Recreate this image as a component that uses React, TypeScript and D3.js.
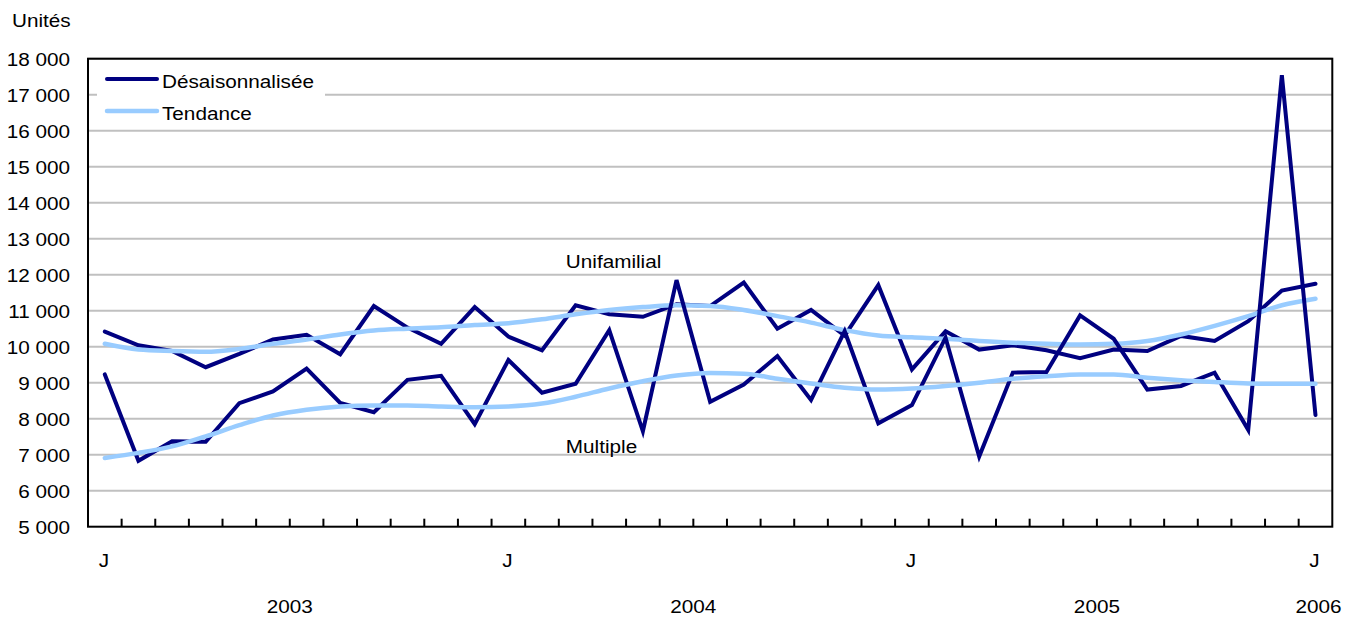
import { useEffect, useRef } from 'react'
import * as d3 from 'd3'

// months Jan 2003 .. Jan 2006
const years = ['2003', '2004', '2005', '2006']
const monthCodes = ['J', 'F', 'M', 'A', 'M', 'J', 'J', 'A', 'S', 'O', 'N', 'D']
const categories: string[] = [
  ...years.slice(0, 3).flatMap((y) => monthCodes.map((_m, i) => `${y}-${String(i + 1).padStart(2, '0')}`)),
  '2006-01',
]

const uniDes = [10420, 10040, 9880, 9430, 9800, 10200, 10330, 9790, 11130, 10530, 10080, 11100, 10280, 9900, 11150, 10900, 10830, 11180, 11130, 11780, 10500, 11020, 10310, 11710, 9370, 10430, 9920, 10040, 9900, 9680, 9920, 9880, 10300, 10160, 10710, 11560, 11750]
const uniTrend = [10080, 9920, 9880, 9860, 9940, 10080, 10200, 10340, 10450, 10500, 10540, 10600, 10650, 10760, 10900, 11020, 11100, 11150, 11130, 11020, 10850, 10670, 10460, 10310, 10260, 10220, 10160, 10110, 10080, 10060, 10080, 10160, 10340, 10580, 10850, 11150, 11330]
const multDes = [9230, 6830, 7370, 7360, 8430, 8760, 9390, 8440, 8180, 9080, 9190, 7850, 9630, 8720, 8970, 10460, 7650, 11850, 8470, 8950, 9740, 8520, 10430, 7870, 8380, 10250, 6950, 9280, 9300, 10870, 10220, 8810, 8910, 9280, 7690, 17540, 8100]
const multTrend = [6910, 7050, 7230, 7510, 7820, 8090, 8250, 8340, 8370, 8370, 8340, 8320, 8340, 8420, 8610, 8840, 9040, 9200, 9270, 9250, 9110, 8980, 8860, 8810, 8840, 8910, 9000, 9110, 9180, 9230, 9230, 9140, 9070, 9020, 8980, 8970, 8970]

const yTicks = [5000, 6000, 7000, 8000, 9000, 10000, 11000, 12000, 13000, 14000, 15000, 16000, 17000, 18000]
const legendItems = [
  { name: 'Désaisonnalisée', color: '#000080' },
  { name: 'Tendance', color: '#99ccff' },
]
const seriesLabels = [
  { text: 'Unifamilial', cat: '2004-03', value: 12190 },
  { text: 'Multiple', cat: '2004-03', value: 7050 },
]

const W = 1356
const H = 620
const DARK = '#000080'
const LIGHT = '#99ccff'

export default function App() {
  const ref = useRef<SVGSVGElement | null>(null)

  useEffect(() => {
    const svg = d3.select(ref.current)
    svg.selectAll('*').remove()
    const margin = { top: 58.7, right: 23.7, bottom: 93.3, left: 88 }
    const x = d3.scaleBand<string>().domain(categories).range([margin.left, W - margin.right])
    const y = d3.scaleLinear().domain([5000, 18000]).range([H - margin.bottom, margin.top])
    const cx = (c: string) => (x(c) ?? 0) + x.bandwidth() / 2
    const fontSize = 18.5
    const sx = 1.12

    const text = (g: d3.Selection<any, unknown, null, undefined>, tx: number, ty: number, s: string, anchor = 'start') =>
      g.append('text')
        .attr('transform', `translate(${tx},${ty}) scale(${sx},1)`)
        .attr('text-anchor', anchor)
        .attr('font-family', 'Liberation Sans, Arial, sans-serif')
        .attr('font-size', fontSize)
        .attr('fill', '#000')
        .text(s)

    const root = svg.append('g')

    // grid
    root.append('g')
      .selectAll('line')
      .data(yTicks.slice(1))
      .join('line')
      .attr('x1', margin.left)
      .attr('x2', W - margin.right)
      .attr('y1', (d) => y(d))
      .attr('y2', (d) => y(d))
      .attr('stroke', '#c0c0c0')
      .attr('stroke-width', 2)

    // y labels
    const fmt = d3.format(',')
    yTicks.forEach((t) => text(root, 70, y(t) + 7, fmt(t).replace(/,/g, ' '), 'end'))
    text(root, 12, 26.5, 'Unités')

    // x ticks (inside, between months)
    const bounds = categories.slice(1).map((c) => x(c) ?? 0)
    root.append('g')
      .selectAll('line')
      .data(bounds)
      .join('line')
      .attr('x1', (d) => d)
      .attr('x2', (d) => d)
      .attr('y1', H - margin.bottom)
      .attr('y2', H - margin.bottom - 8)
      .attr('stroke', '#000')
      .attr('stroke-width', 2)

    // month labels: J only
    categories.forEach((c) => {
      if (c.endsWith('-01')) text(root, cx(c) - 1, 567, 'J', 'middle')
    })
    // year labels centered under the year's months
    years.forEach((yr) => {
      const cats = categories.filter((c) => c.startsWith(yr))
      const x0 = x(cats[0]) ?? 0
      const x1 = (x(cats[cats.length - 1]) ?? 0) + x.bandwidth()
      text(root, (x0 + x1) / 2 + (cats.length === 1 ? 3 : 0), 613, yr, 'middle')
    })

    // lines
    const linear = d3.line<number>().x((_d, i) => cx(categories[i])).y((d) => y(d))
    const smooth = d3.line<number>().x((_d, i) => cx(categories[i])).y((d) => y(d)).curve(d3.curveMonotoneX)
    const draw = (data: number[], color: string, gen: d3.Line<number>, w: number) =>
      root.append('path')
        .datum(data)
        .attr('d', gen)
        .attr('fill', 'none')
        .attr('stroke', color)
        .attr('stroke-width', w)
        .attr('stroke-linecap', 'round')
    draw(uniDes, DARK, linear, 4)
    draw(uniTrend, LIGHT, smooth, 4.5)
    draw(multDes, DARK, linear, 4)
    draw(multTrend, LIGHT, smooth, 4.5)

    // series labels
    seriesLabels.forEach((s) => text(root, (x(s.cat) ?? 0) + 7, y(s.value), s.text))

    // plot frame
    root.append('rect')
      .attr('x', margin.left)
      .attr('y', margin.top)
      .attr('width', W - margin.left - margin.right)
      .attr('height', H - margin.top - margin.bottom)
      .attr('fill', 'none')
      .attr('stroke', '#000')
      .attr('stroke-width', 2)

    // legend
    const lg = root.append('g')
    lg.append('rect').attr('x', 97).attr('y', 62).attr('width', 228).attr('height', 66).attr('fill', '#fff')
    legendItems.forEach((it, i) => {
      const ly = 79 + i * 32
      lg.append('line')
        .attr('x1', 107)
        .attr('x2', 157)
        .attr('y1', ly)
        .attr('y2', ly)
        .attr('stroke', it.color)
        .attr('stroke-width', it.color === LIGHT ? 4.5 : 4)
        .attr('stroke-linecap', 'round')
      text(lg, 162, ly + 9, it.name)
    })
  }, [])

  return <svg ref={ref} width={W} height={H} style={{ position: 'absolute', left: 0, top: 0, background: '#fff' }} />
}
